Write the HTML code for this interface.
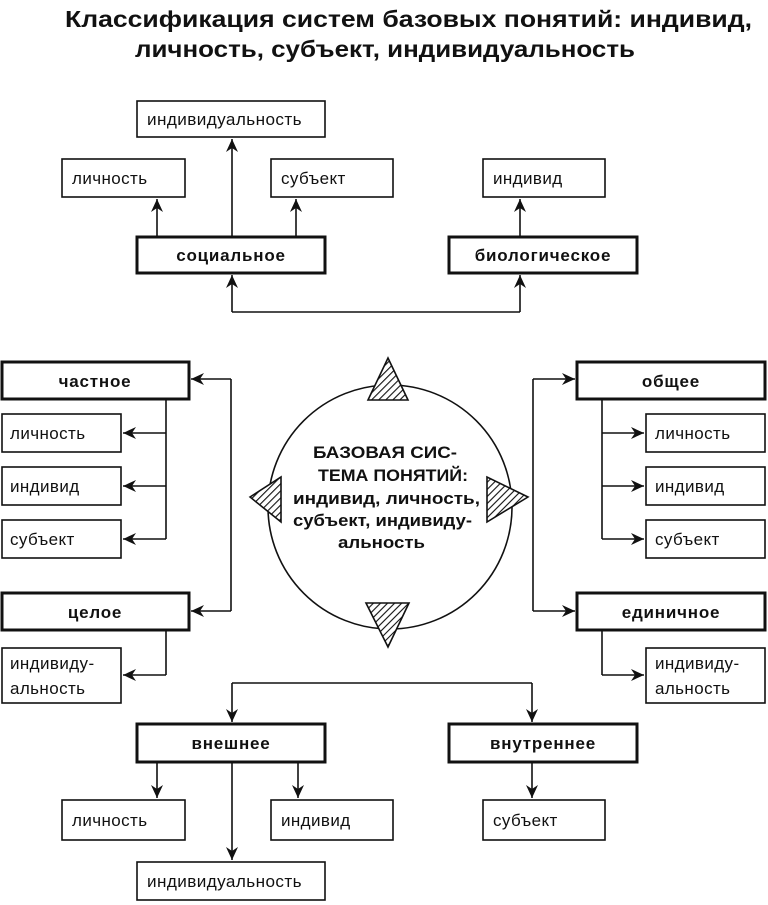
<!DOCTYPE html>
<html><head><meta charset="utf-8"><style>
html,body{margin:0;padding:0;background:#fff}
svg{display:block}
text{font-family:"Liberation Sans","DejaVu Sans",sans-serif;fill:#111}
.t{font-size:17px;letter-spacing:0.4px}
.b{font-size:17px;font-weight:bold;letter-spacing:0.8px}
.h{font-size:23px;font-weight:bold}
.c{font-size:17px;font-weight:bold}
.thin{fill:#fff;stroke:#111;stroke-width:1.6}
.thick{fill:#fff;stroke:#111;stroke-width:3}
.ln{stroke:#111;stroke-width:1.6;fill:none}
</style></head><body>
<svg width="768" height="905" viewBox="0 0 768 905" xmlns="http://www.w3.org/2000/svg">
<defs>
<marker id="a" markerWidth="14" markerHeight="14" refX="13" refY="6" orient="auto" markerUnits="userSpaceOnUse">
<path d="M0,0 L13,6 L0,12 L4,6 Z" fill="#111"/></marker>
<pattern id="hatch" width="5" height="5" patternUnits="userSpaceOnUse" patternTransform="rotate(45)">
<rect width="5" height="5" fill="#fff"/><line x1="0" y1="0" x2="0" y2="5" stroke="#111" stroke-width="2.2"/></pattern>
</defs>

<text class="h" x="65" y="27" textLength="687" lengthAdjust="spacingAndGlyphs">Классификация систем базовых понятий: индивид,</text>
<text class="h" x="135" y="57" textLength="500" lengthAdjust="spacingAndGlyphs">личность, субъект, индивидуальность</text>

<!-- top -->
<rect class="thin" x="137" y="101" width="188" height="36"/><text class="t" x="147" y="125" textLength="155" lengthAdjust="spacingAndGlyphs">индивидуальность</text>
<rect class="thin" x="62" y="159" width="123" height="38"/><text class="t" x="72" y="184">личность</text>
<rect class="thin" x="271" y="159" width="122" height="38"/><text class="t" x="281" y="184">субъект</text>
<rect class="thin" x="483" y="159" width="122" height="38"/><text class="t" x="493" y="184">индивид</text>
<rect class="thick" x="137" y="237" width="188" height="36"/><text class="b" x="231" y="261" text-anchor="middle">социальное</text>
<rect class="thick" x="449" y="237" width="188" height="36"/><text class="b" x="543" y="261" text-anchor="middle">биологическое</text>
<line class="ln" x1="232" y1="237" x2="232" y2="139" marker-end="url(#a)"/>
<line class="ln" x1="157" y1="237" x2="157" y2="199" marker-end="url(#a)"/>
<line class="ln" x1="296" y1="237" x2="296" y2="199" marker-end="url(#a)"/>
<line class="ln" x1="520" y1="237" x2="520" y2="199" marker-end="url(#a)"/>
<path class="ln" d="M520,312 L232,312"/>
<line class="ln" x1="232" y1="312" x2="232" y2="275" marker-end="url(#a)"/>
<line class="ln" x1="520" y1="312" x2="520" y2="275" marker-end="url(#a)"/>

<!-- circle -->
<circle cx="390" cy="507" r="122" fill="#fff" stroke="#111" stroke-width="1.6"/>
<polygon points="388,358 368,400 408,400" fill="url(#hatch)" stroke="#111" stroke-width="1.6"/>
<polygon points="250,497 281,477 281,522" fill="url(#hatch)" stroke="#111" stroke-width="1.6"/>
<polygon points="528,497 487,477 487,522" fill="url(#hatch)" stroke="#111" stroke-width="1.6"/>
<polygon points="388,647 366,603 409,603" fill="url(#hatch)" stroke="#111" stroke-width="1.6"/>
<text class="c" x="313" y="458" textLength="144" lengthAdjust="spacingAndGlyphs">БАЗОВАЯ СИС-</text>
<text class="c" x="318" y="481" textLength="150" lengthAdjust="spacingAndGlyphs">ТЕМА ПОНЯТИЙ:</text>
<text class="c" x="293" y="504" textLength="187" lengthAdjust="spacingAndGlyphs">индивид, личность,</text>
<text class="c" x="293" y="526" textLength="179" lengthAdjust="spacingAndGlyphs">субъект, индивиду-</text>
<text class="c" x="338" y="548" textLength="87" lengthAdjust="spacingAndGlyphs">альность</text>

<!-- left -->
<rect class="thick" x="2" y="362" width="187" height="37"/><text class="b" x="95" y="387" text-anchor="middle">частное</text>
<rect class="thin" x="2" y="414" width="119" height="38"/><text class="t" x="10" y="439">личность</text>
<rect class="thin" x="2" y="467" width="119" height="38"/><text class="t" x="10" y="492">индивид</text>
<rect class="thin" x="2" y="520" width="119" height="38"/><text class="t" x="10" y="545">субъект</text>
<rect class="thick" x="2" y="593" width="187" height="37"/><text class="b" x="95" y="618" text-anchor="middle">целое</text>
<rect class="thin" x="2" y="648" width="119" height="55"/><text class="t" x="10" y="669">индивиду-</text><text class="t" x="10" y="694">альность</text>
<path class="ln" d="M166,399 V539"/>
<line class="ln" x1="166" y1="433" x2="123" y2="433" marker-end="url(#a)"/>
<line class="ln" x1="166" y1="486" x2="123" y2="486" marker-end="url(#a)"/>
<line class="ln" x1="166" y1="539" x2="123" y2="539" marker-end="url(#a)"/>
<path class="ln" d="M166,630 V675"/>
<line class="ln" x1="166" y1="675" x2="123" y2="675" marker-end="url(#a)"/>
<path class="ln" d="M231,379 V611"/>
<line class="ln" x1="231" y1="379" x2="191" y2="379" marker-end="url(#a)"/>
<line class="ln" x1="231" y1="611" x2="191" y2="611" marker-end="url(#a)"/>

<!-- right -->
<rect class="thick" x="577" y="362" width="188" height="37"/><text class="b" x="671" y="387" text-anchor="middle">общее</text>
<rect class="thin" x="646" y="414" width="119" height="38"/><text class="t" x="655" y="439">личность</text>
<rect class="thin" x="646" y="467" width="119" height="38"/><text class="t" x="655" y="492">индивид</text>
<rect class="thin" x="646" y="520" width="119" height="38"/><text class="t" x="655" y="545">субъект</text>
<rect class="thick" x="577" y="593" width="188" height="37"/><text class="b" x="671" y="618" text-anchor="middle">единичное</text>
<rect class="thin" x="646" y="648" width="119" height="55"/><text class="t" x="655" y="669">индивиду-</text><text class="t" x="655" y="694">альность</text>
<path class="ln" d="M602,399 V539"/>
<line class="ln" x1="602" y1="433" x2="644" y2="433" marker-end="url(#a)"/>
<line class="ln" x1="602" y1="486" x2="644" y2="486" marker-end="url(#a)"/>
<line class="ln" x1="602" y1="539" x2="644" y2="539" marker-end="url(#a)"/>
<path class="ln" d="M602,630 V675"/>
<line class="ln" x1="602" y1="675" x2="644" y2="675" marker-end="url(#a)"/>
<path class="ln" d="M533,379 V611"/>
<line class="ln" x1="533" y1="379" x2="575" y2="379" marker-end="url(#a)"/>
<line class="ln" x1="533" y1="611" x2="575" y2="611" marker-end="url(#a)"/>

<!-- bottom -->
<path class="ln" d="M232,683 H532"/>
<line class="ln" x1="232" y1="683" x2="232" y2="722" marker-end="url(#a)"/>
<line class="ln" x1="532" y1="683" x2="532" y2="722" marker-end="url(#a)"/>
<rect class="thick" x="137" y="724" width="188" height="38"/><text class="b" x="231" y="749" text-anchor="middle">внешнее</text>
<rect class="thick" x="449" y="724" width="188" height="38"/><text class="b" x="543" y="749" text-anchor="middle">внутреннее</text>
<rect class="thin" x="62" y="800" width="123" height="40"/><text class="t" x="72" y="826">личность</text>
<rect class="thin" x="271" y="800" width="122" height="40"/><text class="t" x="281" y="826">индивид</text>
<rect class="thin" x="483" y="800" width="122" height="40"/><text class="t" x="493" y="826">субъект</text>
<rect class="thin" x="137" y="862" width="188" height="38"/><text class="t" x="147" y="887" textLength="155" lengthAdjust="spacingAndGlyphs">индивидуальность</text>
<line class="ln" x1="157" y1="762" x2="157" y2="798" marker-end="url(#a)"/>
<line class="ln" x1="298" y1="762" x2="298" y2="798" marker-end="url(#a)"/>
<line class="ln" x1="232" y1="762" x2="232" y2="860" marker-end="url(#a)"/>
<line class="ln" x1="532" y1="762" x2="532" y2="798" marker-end="url(#a)"/>
</svg>
</body></html>
